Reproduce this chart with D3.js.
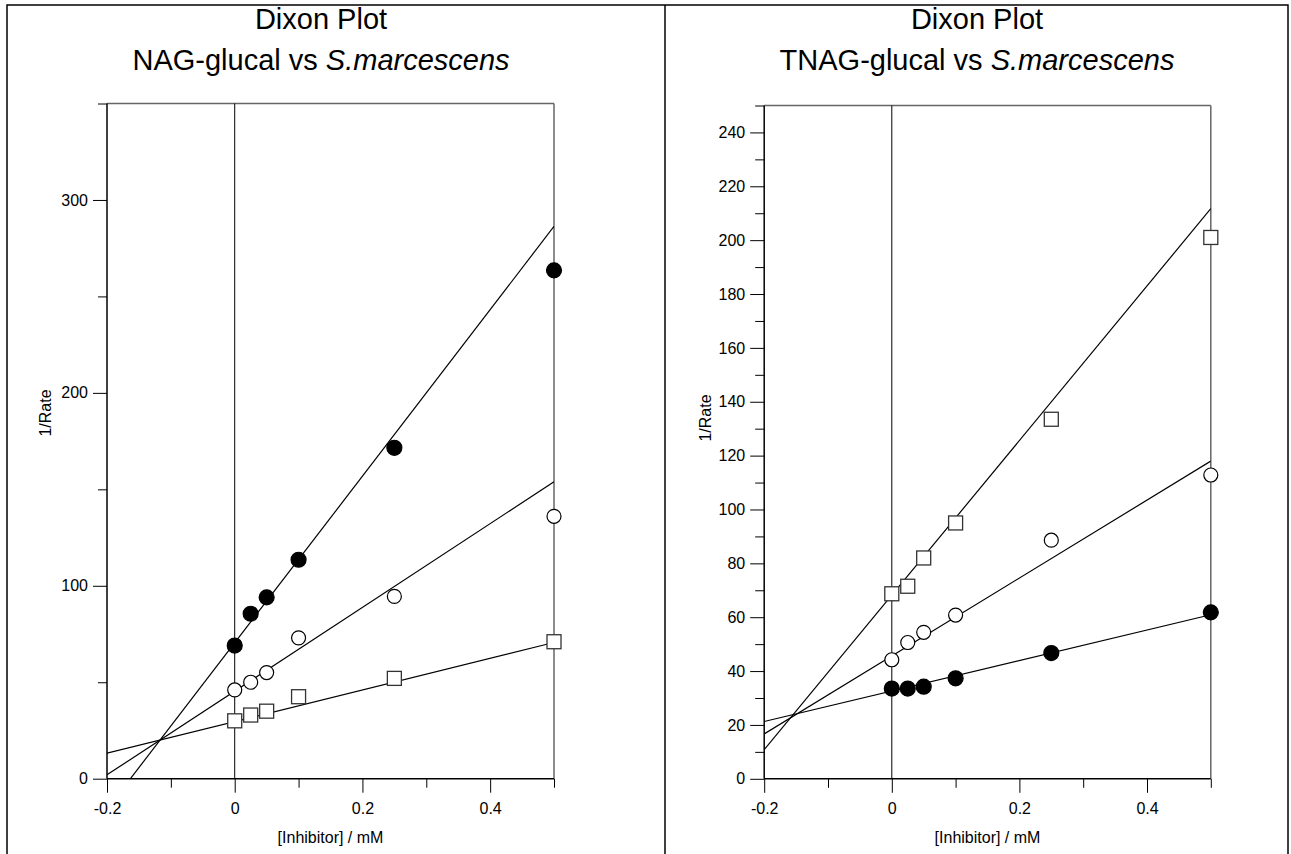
<!DOCTYPE html>
<html>
<head>
<meta charset="utf-8">
<script src="https://cdn.jsdelivr.net/npm/d3@7"></script>
<style>
  html, body { margin: 0; padding: 0; background: #fff; }
  svg { display: block; font-family: "Liberation Sans", Arial, sans-serif; }
</style>
</head>
<body>
<svg id="chart" width="1291" height="854"></svg>
<script>
// Inhibitor concentrations (mM) shared by both experiments
const concentrations = [0, 0.025, 0.05, 0.1, 0.25, 0.5];

// NAG-glucal: 1/rate for three substrate levels
const nagFilled = [69, 85.5, 94, 113.5, 171.5, 263.5];
const nagOpen   = [46, 50, 55, 73, 94.5, 136];
const nagSquare = [30, 33, 35, 42.5, 52, 71];
// fitted lines (slope, intercept), same order: filled, open, square
const nagSlopes     = [431.6, 217, 82];
const nagIntercepts = [70.5, 45.4, 29.6];

// TNAG-glucal: 1/rate for three substrate levels
const tnagSquare = [68.7, 71.5, 82, 95, 133.5, 201];
const tnagOpen   = [44.2, 50.6, 54.4, 60.8, 88.6, 112.8];
const tnagFilled = [33.5, 33.5, 34.2, 37.3, 46.7, 61.8];
// fitted lines (slope, intercept), same order: square, open, filled
const tnagSlopes     = [287, 144.7, 56.6];
const tnagIntercepts = [68.2, 45.6, 32.6];

// Axis ticks
const xMajorTicks = [-0.2, 0, 0.2, 0.4];
const xMinorTicks = [-0.1, 0.1, 0.3, 0.5];
const nagYMajor = [0, 100, 200, 300];
const nagYMinor = [50, 150, 250, 350];
const tnagYMajor = [0, 20, 40, 60, 80, 100, 120, 140, 160, 180, 200, 220, 240];
const tnagYMinor = [10, 30, 50, 70, 90, 110, 130, 150, 170, 190, 210, 230, 250];

const svg = d3.select("#chart");

// outer frame with a divider between the two panels
svg.append("rect")
  .attr("x", 7).attr("y", 5).attr("width", 1281).attr("height", 860)
  .attr("fill", "none").attr("stroke", "#000").attr("stroke-width", 1.5);
svg.append("line")
  .attr("x1", 665).attr("x2", 665).attr("y1", 5).attr("y2", 854)
  .attr("stroke", "#000").attr("stroke-width", 1.5);

function drawPanel(cfg) {
  const x = d3.scaleLinear().domain([-0.2, 0.5]).range([cfg.left, cfg.right]);
  const y = d3.scaleLinear().domain([0, cfg.yMax]).range([cfg.bottom, cfg.top]);
  const g = svg.append("g");
  const cx = (cfg.left + cfg.right) / 2;

  // two-line title
  g.append("text")
    .attr("x", cfg.titleX).attr("y", 29)
    .attr("text-anchor", "middle").attr("font-size", 29).attr("fill", "#000")
    .text("Dixon Plot");
  const t2 = g.append("text")
    .attr("x", cfg.titleX).attr("y", 70)
    .attr("text-anchor", "middle").attr("font-size", 29).attr("fill", "#000");
  t2.append("tspan").text(cfg.compound + " vs ");
  t2.append("tspan").attr("font-style", "italic").text("S.marcescens");

  const fmt = d => String(d);

  // x axis ticks
  const xMaj = g.append("g").attr("transform", `translate(0,${cfg.bottom})`)
    .call(d3.axisBottom(x).tickValues(xMajorTicks).tickSize(14).tickPadding(10).tickFormat(fmt));
  const xMin = g.append("g").attr("transform", `translate(0,${cfg.bottom})`)
    .call(d3.axisBottom(x).tickValues(xMinorTicks).tickSize(9).tickFormat(""));
  // y axis ticks
  const yMaj = g.append("g").attr("transform", `translate(${cfg.left},0)`)
    .call(d3.axisLeft(y).tickValues(cfg.yMajor).tickSize(14).tickPadding(5).tickFormat(fmt));
  const yMin = g.append("g").attr("transform", `translate(${cfg.left},0)`)
    .call(d3.axisLeft(y).tickValues(cfg.yMinor).tickSize(9).tickFormat(""));

  [xMaj, xMin, yMaj, yMin].forEach(a => {
    a.select(".domain").remove();
    a.selectAll(".tick line").attr("stroke", "#000").attr("stroke-width", 1);
    a.selectAll(".tick text")
      .attr("font-size", 16).attr("fill", "#000")
      .attr("font-family", "'Liberation Sans', Arial, sans-serif");
  });

  // plot frame: top and right edges grey, axes black
  g.append("line").attr("x1", cfg.left).attr("x2", cfg.right)
    .attr("y1", cfg.top).attr("y2", cfg.top)
    .attr("stroke", "#666").attr("stroke-width", 1.5);
  g.append("line").attr("x1", cfg.right).attr("x2", cfg.right)
    .attr("y1", cfg.top).attr("y2", cfg.bottom)
    .attr("stroke", "#666").attr("stroke-width", 1.5);
  g.append("line").attr("x1", cfg.left).attr("x2", cfg.right)
    .attr("y1", cfg.bottom).attr("y2", cfg.bottom)
    .attr("stroke", "#000").attr("stroke-width", 1.5);
  g.append("line").attr("x1", cfg.left).attr("x2", cfg.left)
    .attr("y1", cfg.top).attr("y2", cfg.bottom)
    .attr("stroke", "#000").attr("stroke-width", 1.5);

  // vertical line at zero inhibitor
  g.append("line").attr("x1", x(0)).attr("x2", x(0))
    .attr("y1", cfg.top).attr("y2", cfg.bottom)
    .attr("stroke", "#000").attr("stroke-width", 1);

  // axis titles
  g.append("text")
    .attr("x", cx).attr("y", 843)
    .attr("text-anchor", "middle").attr("font-size", 16).attr("fill", "#000")
    .text("[Inhibitor] / mM");
  g.append("text")
    .attr("transform", `translate(${cfg.left - cfg.yTitleOffset},${cfg.yTitle}) rotate(-90)`)
    .attr("text-anchor", "middle").attr("font-size", 16).attr("fill", "#000")
    .text("1/Rate");

  // fitted lines, clipped to plot area
  const clipId = "clip-" + cfg.id;
  g.append("clipPath").attr("id", clipId)
    .append("rect")
    .attr("x", cfg.left).attr("y", cfg.top)
    .attr("width", cfg.right - cfg.left).attr("height", cfg.bottom - cfg.top);
  const lineGen = d3.line().x(d => x(d[0])).y(d => y(d[1]));
  cfg.series.forEach(s => {
    const pts = [-0.2, 0.5].map(v => [v, s.intercept + s.slope * v]);
    g.append("path")
      .attr("d", lineGen(pts))
      .attr("clip-path", `url(#${clipId})`)
      .attr("fill", "none").attr("stroke", "#000").attr("stroke-width", 1.2);
  });

  // data markers
  cfg.series.forEach(s => {
    const pts = concentrations.map((c, i) => [c, s.values[i]]);
    if (s.marker === "square") {
      g.selectAll(null).data(pts).enter().append("rect")
        .attr("x", d => x(d[0]) - 7).attr("y", d => y(d[1]) - 7)
        .attr("width", 14).attr("height", 14)
        .attr("fill", "#fff").attr("stroke", "#333").attr("stroke-width", 1.3);
    } else {
      g.selectAll(null).data(pts).enter().append("circle")
        .attr("cx", d => x(d[0])).attr("cy", d => y(d[1]))
        .attr("r", s.marker === "filled" ? 7.5 : 7)
        .attr("fill", s.marker === "filled" ? "#000" : "#fff")
        .attr("stroke", "#000").attr("stroke-width", 1.2);
    }
  });
}

drawPanel({
  id: "nag", compound: "NAG-glucal", titleX: 321,
  left: 107, right: 554, top: 103.5, bottom: 778.7, yMax: 350,
  yTitle: 413, yTitleOffset: 56,
  yMajor: nagYMajor, yMinor: nagYMinor,
  series: [
    { marker: "filled", values: nagFilled, slope: nagSlopes[0], intercept: nagIntercepts[0] },
    { marker: "open",   values: nagOpen,   slope: nagSlopes[1], intercept: nagIntercepts[1] },
    { marker: "square", values: nagSquare, slope: nagSlopes[2], intercept: nagIntercepts[2] }
  ]
});

drawPanel({
  id: "tnag", compound: "TNAG-glucal", titleX: 977,
  left: 764.2, right: 1210.8, top: 105.5, bottom: 778.8, yMax: 250,
  yTitle: 418, yTitleOffset: 53,
  yMajor: tnagYMajor, yMinor: tnagYMinor,
  series: [
    { marker: "square", values: tnagSquare, slope: tnagSlopes[0], intercept: tnagIntercepts[0] },
    { marker: "open",   values: tnagOpen,   slope: tnagSlopes[1], intercept: tnagIntercepts[1] },
    { marker: "filled", values: tnagFilled, slope: tnagSlopes[2], intercept: tnagIntercepts[2] }
  ]
});
</script>
</body>
</html>
